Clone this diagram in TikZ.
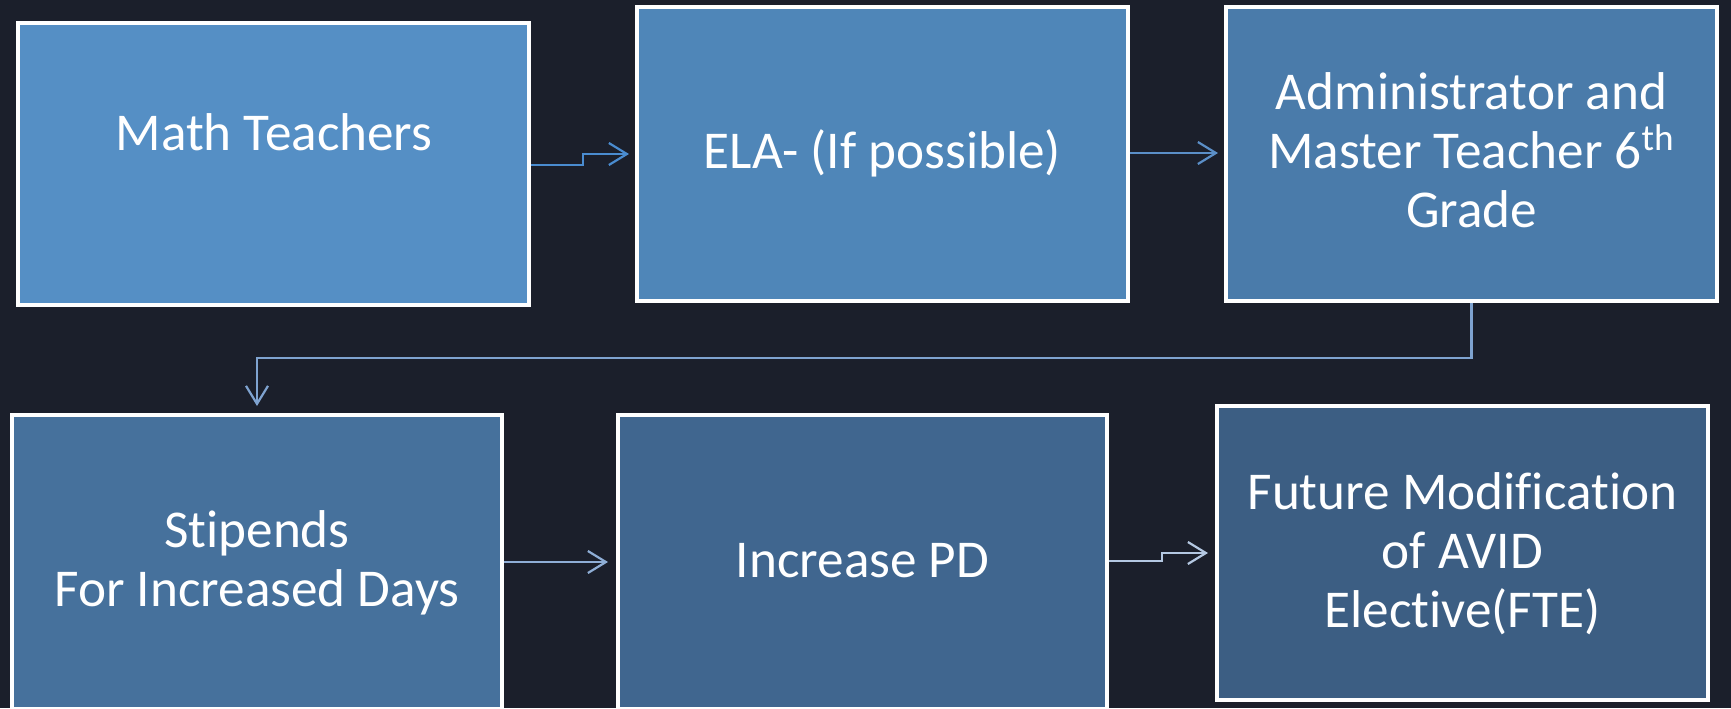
\documentclass[tikz,border=0pt]{standalone}
\usepackage{fontspec}
\setmainfont{Carlito}[Ligatures=NoCommon]
\usetikzlibrary{arrows.meta}
\definecolor{bg}{HTML}{1B1F2B}
\definecolor{fA}{HTML}{558FC5}
\definecolor{fB}{HTML}{4F86B8}
\definecolor{fC}{HTML}{4A7BAA}
\definecolor{fD}{HTML}{46719C}
\definecolor{fE}{HTML}{40668F}
\definecolor{fF}{HTML}{3C5E83}
\definecolor{aA}{HTML}{4A8CD0}
\definecolor{aB}{HTML}{5B8FC8}
\definecolor{aC}{HTML}{7FA3D0}
\definecolor{aD}{HTML}{8FAED6}
\definecolor{aE}{HTML}{B4C8E2}
\tikzset{
  box/.style={draw=white, line width=2pt, inner sep=0pt, minimum width=245.5pt, minimum height=147pt},
  lbl/.style={text=white, font=\fontsize{26.6}{29.3}\selectfont, align=center, inner sep=0pt},
  conn/.style={line width=1.1pt, -{Straight Barb[length=9pt,width=11pt,line width=1.1pt]}},
}
\begin{document}
\begin{tikzpicture}[x=0.5pt,y=-0.5pt]
\fill[bg] (0,0) rectangle (1731,708);
\useasboundingbox (0,0) rectangle (1731,708);
% boxes
\node[box, fill=fA, minimum width=255.5pt, minimum height=141pt] (m) at (273.5,164) {};
\node[box, fill=fB] (e) at (882.5,154) {};
\node[box, fill=fC] (a) at (1471.5,154) {};
\node[box, fill=fD, minimum width=245pt] (s) at (257,562) {};
\node[box, fill=fE, minimum width=244.5pt] (p) at (862.5,562) {};
\node[box, fill=fF] (f) at (1462.5,553) {};
% texts (base anchor = baseline of the last line)
\node[lbl, anchor=base] (tm) at (274,150) {Math Teachers};
\node[lbl, anchor=base] (te) at (882.5,168) {ELA- (If possible)};
\node[lbl, anchor=base] (ta) at (1471.5,227) {Administrator and\\Master Teacher 6\textsuperscript{th}\\Grade};
\node[lbl, anchor=base] (ts) at (257,606) {Stipends\\For Increased Days};
\node[lbl, anchor=base] (tp) at (862.5,577) {Increase PD};
\node[lbl, anchor=base] (tf) at (1462.5,627) {Future Modification\\of AVID\\Elective(FTE)};
% connectors
\draw[conn, aA, shorten >=3pt] ([yshift=-0.5pt]m.east) -- ++(26pt,0) |- (e.west);
\draw[conn, aB, shorten >=3pt] ([yshift=0.5pt]e.east) -- ([yshift=0.5pt]a.west);
\draw[conn, aC, shorten >=3.5pt] (a.south) -- ++(0,-27.5pt) -| (s.north);
\draw[conn, aD, shorten >=4pt] (s.east) -- (p.west);
\draw[conn, aE, shorten >=3.5pt] ([yshift=0.5pt]p.east) -- ++(26.5pt,0) |- (f.west);
\end{tikzpicture}
\end{document}
